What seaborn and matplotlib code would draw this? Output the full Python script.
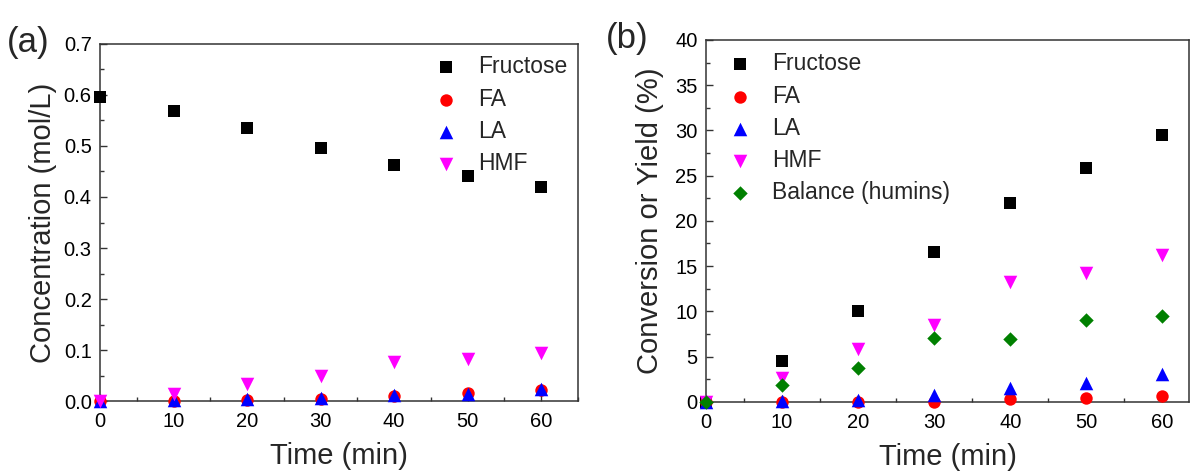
import numpy as np
import pandas as pd
import matplotlib
matplotlib.use("Agg")
import matplotlib.pyplot as plt
from matplotlib.ticker import MultipleLocator, FormatStrFormatter
import seaborn as sns

# ---------------- data ----------------
time_min = [0, 10, 20, 30, 40, 50, 60]

# panel (a): concentration (mol/L)
conc_fructose = [0.597, 0.568, 0.535, 0.496, 0.463, 0.441, 0.419]
conc_fa = [0.000, 0.001, 0.002, 0.004, 0.010, 0.015, 0.022]
conc_la = [0.001, 0.002, 0.004, 0.006, 0.011, 0.014, 0.023]
conc_hmf = [0.000, 0.013, 0.034, 0.050, 0.077, 0.083, 0.095]

# panel (b): conversion or yield (%)
yld_fructose = [0.0, 4.5, 10.0, 16.6, 22.0, 25.8, 29.5]
yld_fa = [0.0, 0.0, 0.0, 0.0, 0.3, 0.4, 0.6]
yld_la = [0.0, 0.1, 0.2, 0.7, 1.5, 2.1, 3.1]
yld_hmf = [0.0, 2.6, 5.8, 8.5, 13.2, 14.2, 16.2]
yld_balance = [0.0, 1.8, 3.7, 7.1, 6.9, 9.0, 9.5]

labels_a = ["Fructose", "FA", "LA", "HMF"]
labels_b = ["Fructose", "FA", "LA", "HMF", "Balance (humins)"]

# ---------------- style ----------------
sns.set_theme(style="ticks")
plt.rcParams["font.family"] = ["Liberation Sans", "DejaVu Sans"]
plt.rcParams["axes.edgecolor"] = "#333333"
plt.rcParams["axes.linewidth"] = 1.1
plt.rcParams["xtick.color"] = "#333333"
plt.rcParams["ytick.color"] = "#333333"
plt.rcParams["xtick.labelcolor"] = "black"
plt.rcParams["ytick.labelcolor"] = "black"

styles = {
    "Fructose": dict(marker="s", color="black", s=76),
    "FA": dict(marker="o", color="#ff0000", s=80),
    "LA": dict(marker="^", color="#0000ff", s=95),
    "HMF": dict(marker="v", color="#ff00ff", s=95),
    "Balance (humins)": dict(marker="D", color="#008000", s=54),
}

fig = plt.figure(figsize=(11.93, 4.72), dpi=100)
ax_a = fig.add_axes([0.0838, 0.1504, 0.4007, 0.7564])
ax_b = fig.add_axes([0.5918, 0.1489, 0.4048, 0.7664])

series_a = [conc_fructose, conc_fa, conc_la, conc_hmf]
series_b = [yld_fructose, yld_fa, yld_la, yld_hmf, yld_balance]

for lab, vals in zip(labels_a, series_a):
    st = styles[lab]
    sns.scatterplot(x=time_min, y=vals, marker=st["marker"], color=st["color"],
                    s=st["s"], linewidth=0, label=lab, ax=ax_a, clip_on=False, zorder=3)

for lab, vals in zip(labels_b, series_b):
    st = styles[lab]
    sns.scatterplot(x=time_min, y=vals, marker=st["marker"], color=st["color"],
                    s=st["s"], linewidth=0, label=lab, ax=ax_b, clip_on=False, zorder=3)

def style_axes(ax, ylim, ymaj, ymin, yfmt, xmax):
    ax.set_xlim(0, xmax)
    ax.set_ylim(*ylim)
    ax.xaxis.set_major_locator(MultipleLocator(10))
    ax.xaxis.set_minor_locator(MultipleLocator(5))
    ax.yaxis.set_major_locator(MultipleLocator(ymaj))
    ax.yaxis.set_minor_locator(MultipleLocator(ymin))
    if yfmt:
        ax.yaxis.set_major_formatter(FormatStrFormatter(yfmt))
    ax.tick_params(which="both", direction="in", top=False, right=False,
                   labelsize=14.5)
    ax.tick_params(axis="x", which="both", pad=8)
    ax.tick_params(axis="y", which="both", pad=6)
    ax.tick_params(which="major", length=5, width=1.0)
    ax.tick_params(which="minor", length=3, width=1.0)
    for sp in ax.spines.values():
        sp.set_visible(True)
    ax.set_xlabel("Time (min)", fontsize=21, labelpad=8)

style_axes(ax_a, (0, 0.7), 0.1, 0.05, "%.1f", 65)
style_axes(ax_b, (0, 40), 5, 2.5, "%d", 63.5)
ax_a.set_ylabel("Concentration (mol/L)", fontsize=21, labelpad=5)
ax_b.set_ylabel("Conversion or Yield (%)", fontsize=21, labelpad=8.5)

leg_kw = dict(frameon=False, fontsize=16.5, handlelength=1.0, handletextpad=0.9,
              labelspacing=0.40, borderpad=0, borderaxespad=0, loc="upper left")
ax_a.legend(bbox_to_anchor=(0.70, 0.968), **leg_kw)
ax_b.legend(bbox_to_anchor=(0.0466, 0.9655), **leg_kw)

fig.text(0.006, 0.91, "(a)", fontsize=25, ha="left", va="center")
fig.text(0.508, 0.918, "(b)", fontsize=25, ha="left", va="center")

fig.savefig("out.png", dpi=100)
